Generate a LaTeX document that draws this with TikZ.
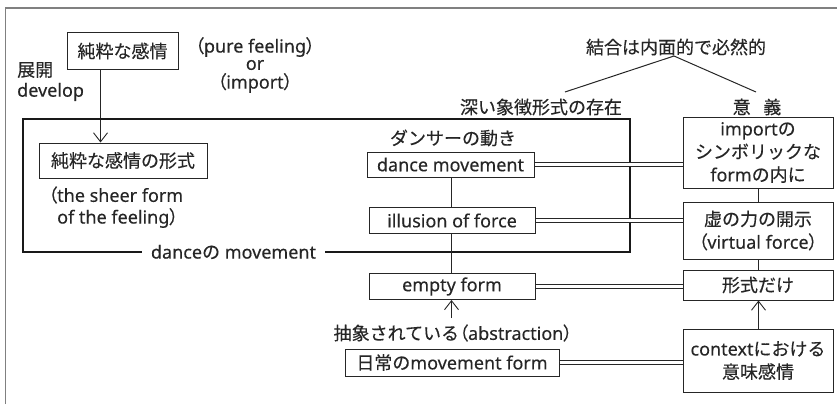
\documentclass[tikz,border=0pt]{standalone}
\usepackage{fontspec}
\setmainfont[FakeBold=0.3]{Noto Sans}
\newfontfamily\jp[FakeBold=0.3]{Noto Sans CJK JP}
\newfontfamily\jpp[RawFeature=+palt,FakeBold=0.3]{Noto Sans CJK JP}
\newcommand\lpar{{\jpp （}}
\newcommand\rpar{{\jpp ）}}
\usetikzlibrary{arrows.meta}
\begin{document}
\begin{tikzpicture}[x=1pt,y=-1pt,
  font=\fontsize{18}{23}\selectfont,
  every node/.style={text=black!85},
  box/.style={draw=black!85, line width=1pt, inner sep=0pt, align=center},
  lbl/.style={inner sep=0pt, align=center},
  conn/.style={draw=black!85, line width=1pt},
  dbl/.style={draw=black!85, double, double distance=3pt, line width=1pt},
  arr/.style={conn, -{Straight Barb[length=9pt,width=14pt,line width=0.9pt]}}]
\useasboundingbox (0,0) rectangle (837,404);
% outer frame
\draw[gray, line width=1.5pt] (5.5,404) -- (5.5,8) -- (837,8);

% left part
\node[box, minimum width=111pt, minimum height=36pt] (pf) at (122.5,51) {\jp 純粋な感情};
\node[lbl, anchor=west] (tenkai) at (17,70) {\jp 展開};
\node[lbl, anchor=west] (develop) at (17,92) {develop};
\node[lbl] (pure) at (255,47) {\lpar pure feeling\rpar};
\node[lbl] (or) at (255,65) {or};
\node[lbl] (imp) at (255,83) {\lpar import\rpar};
\node[box, minimum width=168pt, minimum height=35pt] (pff) at (123,160.5) {\jp 純粋な感情の形式};
\coordinate (ax) at (100.5,0);
\draw[arr] (pf.south -| ax) -- (pff.north -| ax);
\node[lbl, anchor=west] (sheer1) at (48,195) {\lpar the sheer form};
\node[lbl, anchor=west] (sheer2) at (57,218) {of the feeling\rpar};

% thick frame
\draw[line width=2.4pt, black!90] (23,119) rectangle (630,252);
\node[lbl, fill=white, inner xsep=9pt, inner ysep=3pt] (dm) at (233.5,252) {dance{\jp の} movement};

% centre column
\node[lbl] (dancer) at (453,138) {\jp ダンサーの動き};
\node[box, minimum width=167pt, minimum height=25pt] (dmv) at (450.5,164.5) {dance movement};
\node[box, minimum width=166pt, minimum height=26pt] (ill) at (452,220.5) {illusion of force};
\node[box, minimum width=166pt, minimum height=26pt] (emp) at (452,286.5) {empty form};
\node[lbl] (abs) at (453,333) {{\jp 抽象されている}\lpar abstraction\rpar};
\node[box, minimum width=214pt, minimum height=27pt] (daily) at (452,362.5) {{\jp 日常の}movement form};
\coordinate (cx) at (451.5,0);
\coordinate (absTop) at (451.5,318);
\draw[conn] (dmv.south -| cx) -- (ill.north -| cx);
\draw[conn] (ill.south -| cx) -- (emp.north -| cx);
\draw[arr] (absTop) -- (emp.south -| cx);

% right column
\node[box, minimum width=150pt, minimum height=71pt] (sym) at (758,152.5) {import{\jp の}\\{\jp シンボリックな}\\form{\jp の内に}};
\node[box, minimum width=150pt, minimum height=57pt] (vf) at (758,230.5) {{\jp 虚の力の開示}\\\lpar virtual force\rpar};
\node[box, minimum width=150pt, minimum height=30pt] (kei) at (758,285) {\jp 形式だけ};
\node[box, minimum width=150pt, minimum height=63pt] (ctx) at (758,360.5) {context{\jp における}\\{\jp 意味感情}};
\coordinate (rx) at (758.5,0);
\draw[conn] (sym.south -| rx) -- (vf.north -| rx);
\draw[conn] (vf.south -| rx) -- (kei.north -| rx);
\draw[arr] (ctx.north -| rx) -- (kei.south -| rx);

% top labels
\node[lbl] (deep) at (541,107) {\jp 深い象徴形式の存在};
\node[lbl] (igi) at (757,107) {\jp 意\hspace{0.7em}義};
\node[lbl] (ketsu) at (676,47) {\jp 結合は内面的で必然的};
\coordinate (apex) at (674,56);
\coordinate (lend) at (565,92);
\coordinate (rend) at (756,92);
\draw[conn] (apex) -- (lend);
\draw[conn] (apex) -- (rend);

% double connectors
\draw[dbl] (dmv.east) -- (dmv.east -| sym.west);
\draw[dbl] (ill.east) -- (ill.east -| vf.west);
\draw[dbl] (emp.east) -- (emp.east -| kei.west);
\draw[dbl] (daily.east) -- (daily.east -| ctx.west);
\end{tikzpicture}
\end{document}
